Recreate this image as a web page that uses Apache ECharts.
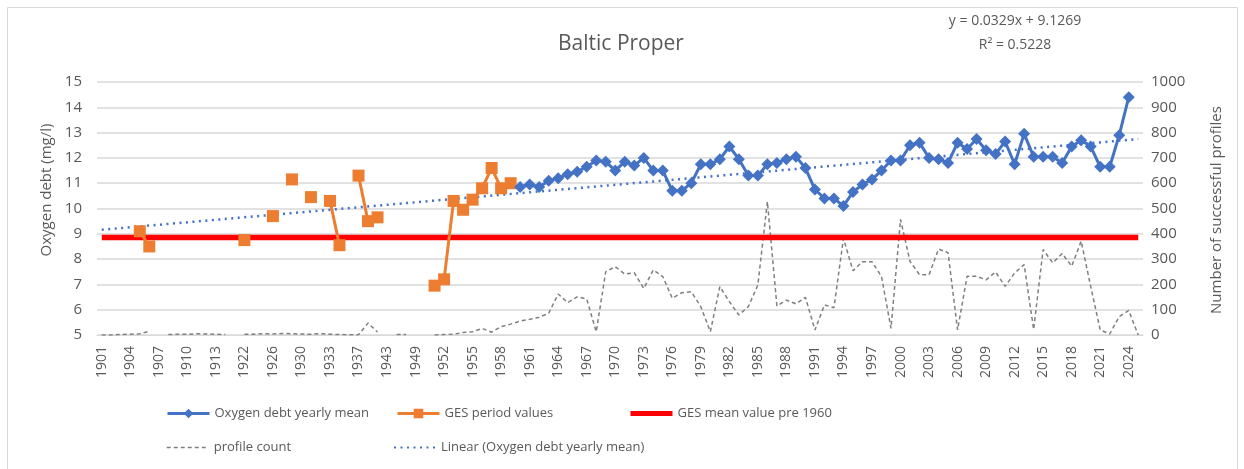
<!DOCTYPE html>
<html>
<head>
<meta charset="utf-8">
<script src="https://cdn.jsdelivr.net/npm/echarts@6/dist/echarts.min.js"></script>
<style>
html,body{margin:0;padding:0;background:#fff;}
#c{width:1244px;height:469px;}
</style>
</head>
<body>
<div id="c"></div>
<script>
// ---------- data ----------
const years = [
  1901,1902,1903,1904,1905,1906,1907,1908,1909,1910,1911,1912,1913,
  1914,1920,1922,1923,1925,1926,1927,1929,1930,1931,1932,1933,1934,1936,1937,
  1938,1939,1943,1946,1948,1949,1950,1951,
  1952,1953,1954,1955,1956,1957,1958,1959,1960,1961,1962,1963,1964,1965,1966,1967,1968,1969,
  1970,1971,1972,1973,1974,1975,1976,1977,1978,1979,1980,1981,1982,1983,1984,1985,1986,1987,
  1988,1989,1990,1991,1992,1993,1994,1995,1996,1997,1998,1999,2000,2001,2002,2003,2004,2005,
  2006,2007,2008,2009,2010,2011,2012,2013,2014,2015,2016,2017,2018,2019,2020,2021,2022,2023,
  2024,2025
];

// Oxygen debt yearly mean, 1960-2024
const oxyYears = [1960,1961,1962,1963,1964,1965,1966,1967,1968,1969,1970,1971,1972,1973,1974,1975,
  1976,1977,1978,1979,1980,1981,1982,1983,1984,1985,1986,1987,1988,1989,1990,1991,1992,1993,1994,
  1995,1996,1997,1998,1999,2000,2001,2002,2003,2004,2005,2006,2007,2008,2009,2010,2011,2012,2013,
  2014,2015,2016,2017,2018,2019,2020,2021,2022,2023,2024];
const oxyMean = [10.85,10.95,10.85,11.1,11.2,11.35,11.45,11.65,11.9,11.85,11.5,11.85,11.7,12.0,11.5,11.5,
  10.7,10.7,11.0,11.75,11.75,11.95,12.45,11.95,11.3,11.3,11.75,11.8,11.95,12.05,11.6,10.75,10.4,10.4,10.1,
  10.65,10.95,11.15,11.5,11.9,11.9,12.5,12.6,12.0,11.95,11.8,12.6,12.35,12.75,12.3,12.15,12.65,11.75,12.95,
  12.05,12.05,12.05,11.8,12.45,12.7,12.45,11.65,11.65,12.9,14.4];

// GES period values
const gesYears  = [1905,1906,1922,1926,1929,1931,1933,1934,1937,1938,1939,1951,1952,1953,1954,1955,1956,1957,1958,1959];
const gesValues = [9.1,8.5,8.75,9.7,11.15,10.45,10.3,8.55,11.3,9.5,9.65,6.95,7.2,10.3,9.95,10.35,10.8,11.6,10.8,11.0];

// GES mean value pre 1960
const gesMean = 8.85;

// profile count (one value per category, null = no data)
const profileCount = [
  0,0,2,3,5,15,null,2,3,3,5,4,3,
  2,null,3,3,5,4,6,5,4,3,5,3,2,1,1,
  47,12,null,2,2,null,null,0,
  2,3,10,13,26,11,33,43,55,62,70,86,162,128,151,142,
  13,250,270,241,246,184,257,231,145,167,171,112,13,191,132,79,112,198,527,115,
  138,123,149,20,119,108,382,254,290,290,231,26,457,291,238,238,340,325,
  20,232,232,218,249,192,245,278,22,338,285,322,272,371,192,20,4,73,
  97,0
];

// Linear trend (Excel): y = 0.0329x + 9.1269, x = category number
const trendSlope = 0.0329;
const trendIntercept = 9.1269;

const leftTicks = {min:5, max:15, interval:1};
const rightTicks = {min:0, max:1000, interval:100};

// ---------- build ----------
const cats = years.map(String);
const n = cats.length;
const oxyData = cats.map(()=>null);
oxyYears.forEach((y,i)=>{ oxyData[years.indexOf(y)] = oxyMean[i]; });
const gesData = cats.map(()=>null);
gesYears.forEach((y,i)=>{ gesData[years.indexOf(y)] = gesValues[i]; });
const trendData = [[0, trendSlope*1+trendIntercept],[n-1, trendSlope*n+trendIntercept]];
const meanData = [[0, gesMean],[n-1, gesMean]];

const FONT = '"Open Sans", "Noto Sans", sans-serif';
const TXT = '#595959';

const chart = echarts.init(document.getElementById('c'), null, {renderer:'canvas'});

function leg(item, left, top){
  return {
    data:[item], left:left, top:top, padding:0, itemWidth:42, itemHeight:12, itemGap:6,
    textStyle:{color:TXT, fontSize:13, fontFamily:FONT}, selectedMode:false
  };
}

chart.setOption({
  animation:false,
  backgroundColor:'#fff',
  grid:{left:97, right:101, top:82, bottom:134, containLabel:false},
  legend:[
    leg({name:'Oxygen debt yearly mean', lineStyle:{width:3}},166,407),
    leg({name:'GES period values', lineStyle:{width:3}},396,407),
    leg({name:'GES mean value pre 1960', itemStyle:{opacity:0}, lineStyle:{width:5}},628,407),
    leg({name:'profile count', itemStyle:{opacity:0}, lineStyle:{width:1.5}},166,441),
    leg({name:'Linear (Oxygen debt yearly mean)', itemStyle:{opacity:0}, lineStyle:{width:2}},393,441)
  ],
  xAxis:{
    type:'category', data:cats, boundaryGap:true,
    axisLine:{lineStyle:{color:'#d9d9d9', width:1}},
    axisTick:{show:false},
    axisLabel:{interval:2, rotate:90, color:TXT, fontSize:14, fontFamily:FONT, margin:11}
  },
  yAxis:[
    {type:'value', min:leftTicks.min, max:leftTicks.max, interval:leftTicks.interval,
     axisLine:{show:false}, axisTick:{show:false},
     axisLabel:{color:TXT, fontSize:15, fontFamily:FONT, margin:15},
     splitLine:{lineStyle:{color:'#d9d9d9', width:1.5}}},
    {type:'value', min:rightTicks.min, max:rightTicks.max, interval:rightTicks.interval,
     axisLine:{show:false}, axisTick:{show:false},
     axisLabel:{color:TXT, fontSize:15, fontFamily:FONT, margin:8, formatter:(v)=>String(v)},
     splitLine:{show:false}}
  ],
  graphic:[
    {type:'rect', shape:{x:7.5, y:7.5, width:1230, height:480}, style:{fill:'none', stroke:'#d9d9d9', lineWidth:1}, silent:true},
    {type:'text', x:621, y:44, style:{text:'Baltic Proper', fill:TXT, font:'21px '+FONT, textAlign:'center', textVerticalAlign:'middle'}},
    {type:'text', x:1015, y:21, style:{text:'y = 0.0329x + 9.1269', fill:TXT, font:'14px '+FONT, textAlign:'center', textVerticalAlign:'middle'}},
    {type:'text', x:1015, y:45, style:{text:'R² = 0.5228', fill:TXT, font:'14px '+FONT, textAlign:'center', textVerticalAlign:'middle'}},
    {type:'text', x:47, y:190, rotation:Math.PI/2, style:{text:'Oxygen debt (mg/l)', fill:TXT, font:'15px '+FONT, textAlign:'center', textVerticalAlign:'middle'}},
    {type:'text', x:1217, y:210, rotation:Math.PI/2, style:{text:'Number of successful profiles', fill:TXT, font:'15px '+FONT, textAlign:'center', textVerticalAlign:'middle'}}
  ],
  series:[
    {name:'profile count', type:'line', yAxisIndex:1, data:profileCount, connectNulls:false,
     symbol:'none', lineStyle:{color:'#7f7f7f', width:1.5, type:[4,3]}, itemStyle:{color:'#7f7f7f'}, z:1},
    {name:'GES mean value pre 1960', type:'line', data:meanData, symbol:'none',
     lineStyle:{color:'#ff0000', width:5.5}, itemStyle:{color:'#ff0000'}, z:2},
    {name:'Linear (Oxygen debt yearly mean)', type:'line', data:trendData, symbol:'none',
     lineStyle:{color:'#4472c4', width:2.5, type:[2,4.5]}, itemStyle:{color:'#4472c4'}, z:3},
    {name:'GES period values', type:'line', data:gesData, connectNulls:false, showAllSymbol:true,
     symbol:'rect', symbolSize:12, lineStyle:{color:'#ed7d31', width:3}, itemStyle:{color:'#ed7d31'}, z:4},
    {name:'Oxygen debt yearly mean', type:'line', data:oxyData, connectNulls:false, showAllSymbol:true,
     symbol:'diamond', symbolSize:12, lineStyle:{color:'#4472c4', width:3}, itemStyle:{color:'#4472c4'}, z:5}
  ]
});
</script>
</body>
</html>
